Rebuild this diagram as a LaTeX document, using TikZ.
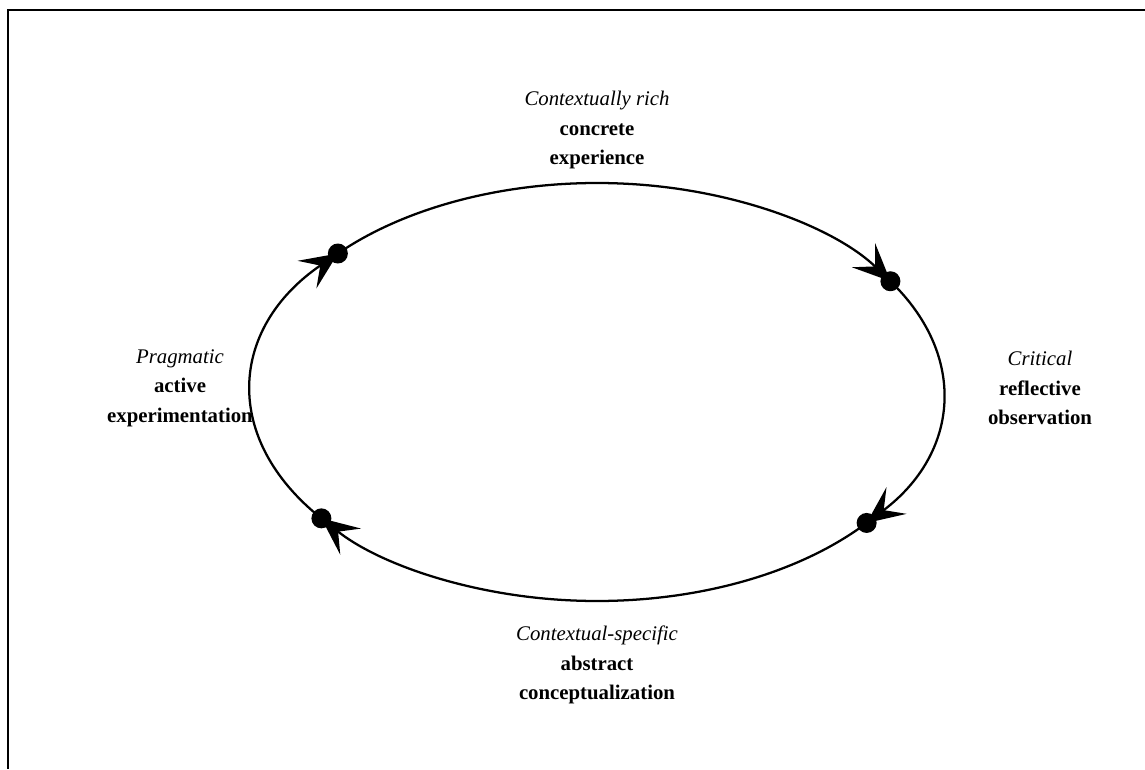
\documentclass[tikz,border=0pt]{standalone}
\usepackage{fontspec}
\setmainfont{Liberation Serif}
\usetikzlibrary{arrows.meta}
\begin{document}
\begin{tikzpicture}[x=0.75pt,y=0.75pt,
  lbl/.style={align=center,font=\fontsize{15.6}{22}\selectfont,inner sep=0pt},
  cyc/.style={line width=1.7pt,-{Stealth[length=28pt,width=25pt,inset=12pt]}},
  dotc/.style={circle,fill=black,minimum size=15pt,inner sep=0pt}]
\useasboundingbox (0,0) rectangle (1145,769);
\draw[line width=1.9pt] (1145,759) -- (8,759) -- (8,0);
\coordinate (c) at (597,377);
\path (c) ++(138.5:346 and 209) coordinate (d1);
\path (c) ++(32:346 and 209) coordinate (d2);
\path (c) ++(-38.8:346 and 209) coordinate (d3);
\path (c) ++(-142.8:346 and 209) coordinate (d4);
\draw[cyc] (d1) arc[start angle=138.5,end angle=32,x radius=346,y radius=209];
\draw[cyc] (d2) arc[start angle=32,end angle=-38.8,x radius=346,y radius=209];
\draw[cyc] (d3) arc[start angle=-38.8,end angle=-142.8,x radius=346,y radius=209];
\draw[cyc] (d4) arc[start angle=-142.8,end angle=-221.5,x radius=346,y radius=209];
\node[dotc] (n1) at (d1) {};
\node[dotc] (n2) at (d2) {};
\node[dotc] (n3) at (d3) {};
\node[dotc] (n4) at (d4) {};
\node[lbl] (top) at (597,639) {\textit{Contextually rich}\\\textbf{concrete}\\\textbf{experience}};
\node[lbl] (right) at (1040,381) {\textit{Critical}\\\textbf{reflective}\\\textbf{observation}};
\node[lbl] (bottom) at (597,104) {\textit{Contextual-specific}\\\textbf{abstract}\\\textbf{conceptualization}};
\node[lbl] (left) at (180,381) {\textit{Pragmatic}\\\textbf{active}\\\textbf{experimentation}};
\end{tikzpicture}
\end{document}
